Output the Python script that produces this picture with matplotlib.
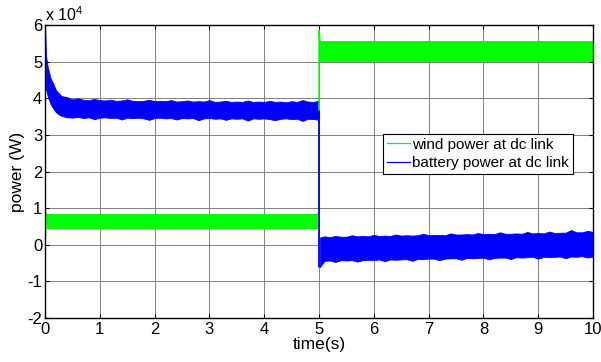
import matplotlib
matplotlib.use('Agg')
import matplotlib.pyplot as plt
from matplotlib.lines import Line2D
import numpy as np

plt.rcParams['font.family'] = ['Liberation Sans', 'DejaVu Sans']
plt.rcParams['mathtext.fontset'] = 'custom'
plt.rcParams['mathtext.rm'] = 'Liberation Sans'

# values in units of 1e4 W
# battery power at dc link, envelope of the noisy signal
batt_t1 = [0.02, 0.05, 0.1, 0.15, 0.2, 0.25, 0.3, 0.4, 0.5, 0.6, 0.7, 0.8, 0.9, 1.0,
           1.1, 1.2, 1.3, 1.4, 1.5, 1.6, 1.7, 1.8, 1.9, 2.0, 2.1, 2.2, 2.3, 2.4, 2.5,
           2.6, 2.7, 2.8, 2.9, 3.0, 3.1, 3.2, 3.3, 3.4, 3.5, 3.6, 3.7, 3.8, 3.9, 4.0,
           4.1, 4.2, 4.3, 4.4, 4.5, 4.6, 4.7, 4.8, 4.9, 4.98]
batt_hi1 = [5.15, 4.85, 4.55, 4.40, 4.22, 4.14, 4.06, 4.03, 3.97, 4.00, 3.96, 3.95, 3.98, 3.95,
            3.94, 3.96, 3.93, 3.94, 3.97, 3.93, 3.92, 3.93, 3.96, 3.92, 3.93, 3.92, 3.95, 3.91, 3.92,
            3.94, 3.91, 3.92, 3.91, 3.95, 3.90, 3.91, 3.93, 3.90, 3.91, 3.90, 3.94, 3.90, 3.91, 3.90,
            3.93, 3.90, 3.91, 3.89, 3.92, 3.90, 3.95, 3.91, 3.90, 3.93]
batt_lo1 = [4.25, 4.05, 3.85, 3.72, 3.62, 3.56, 3.52, 3.48, 3.47, 3.49, 3.46, 3.48, 3.43, 3.47,
            3.48, 3.46, 3.47, 3.42, 3.47, 3.46, 3.47, 3.45, 3.41, 3.46, 3.47, 3.45, 3.46, 3.42, 3.46,
            3.45, 3.46, 3.40, 3.45, 3.46, 3.44, 3.45, 3.41, 3.45, 3.44, 3.45, 3.39, 3.45, 3.44, 3.45,
            3.43, 3.40, 3.44, 3.45, 3.43, 3.44, 3.38, 3.44, 3.43, 3.42]

batt_t2 = [5.02, 5.1, 5.2, 5.3, 5.4, 5.5, 5.6, 5.7, 5.8, 5.9, 6.0, 6.1, 6.2, 6.3, 6.4, 6.5,
           6.6, 6.7, 6.8, 6.9, 7.0, 7.1, 7.2, 7.3, 7.4, 7.5, 7.6, 7.7, 7.8, 7.9, 8.0, 8.1,
           8.2, 8.3, 8.4, 8.5, 8.6, 8.7, 8.8, 8.9, 9.0, 9.1, 9.2, 9.3, 9.4, 9.5, 9.6, 9.7,
           9.8, 9.9, 10.0]
batt_hi2 = [0.20, 0.23, 0.21, 0.24, 0.22, 0.22, 0.26, 0.23, 0.24, 0.23, 0.27, 0.24, 0.25, 0.24, 0.28, 0.25,
            0.26, 0.25, 0.26, 0.30, 0.26, 0.27, 0.27, 0.26, 0.31, 0.28, 0.28, 0.29, 0.28, 0.32, 0.29,
            0.30, 0.29, 0.34, 0.30, 0.30, 0.31, 0.30, 0.35, 0.31, 0.32, 0.31, 0.36, 0.32, 0.33, 0.33,
            0.40, 0.34, 0.34, 0.38, 0.35]
batt_lo2 = [-0.60, -0.44, -0.43, -0.47, -0.42, -0.43, -0.42, -0.46, -0.42, -0.41, -0.42, -0.40, -0.45, -0.40, -0.41, -0.40,
            -0.39, -0.44, -0.39, -0.39, -0.38, -0.38, -0.42, -0.38, -0.37, -0.37, -0.41, -0.36, -0.37, -0.36, -0.35, -0.40,
            -0.36, -0.35, -0.35, -0.39, -0.34, -0.35, -0.34, -0.33, -0.38, -0.33, -0.34, -0.33, -0.32, -0.37, -0.32,
            -0.33, -0.31, -0.35, -0.32]

# start-up spike and step at t = 5 s
batt_edge_t = [0.0, 0.0, 0.02, np.nan, 4.98, 5.0, 5.0, 5.02]
batt_edge_v = [-2.0, 6.0, 5.15, np.nan, 3.42, 3.65, -0.60, -0.60]

# wind power at dc link
wind_t1 = [0.03, 4.98]
wind_hi1 = [0.85, 0.85]
wind_lo1 = [0.44, 0.44]
wind_t2 = [5.02, 10.0]
wind_hi2 = [5.57, 5.57]
wind_lo2 = [4.98, 4.98]
wind_edge_t = [0.0, 0.03, np.nan, 4.98, 5.0, 5.0, 5.02]
wind_edge_v = [0.0, 0.85, np.nan, 0.85, 0.85, 5.85, 5.57]

xticks = [0, 1, 2, 3, 4, 5, 6, 7, 8, 9, 10]
yticks = [-2, -1, 0, 1, 2, 3, 4, 5, 6]
labels = ['wind power at dc link', 'battery power at dc link']

green = '#00ff00'
blue = '#0000ff'

fig = plt.figure(figsize=(6.01, 3.62), dpi=100)
ax = fig.add_axes([45/601, 1-318/362, 548/601, 293/362])

ax.fill_between(wind_t1, wind_lo1, wind_hi1, color=green, lw=0)
ax.fill_between(wind_t2, wind_lo2, wind_hi2, color=green, lw=0)
ax.plot(wind_edge_t, wind_edge_v, color=green, lw=1.0)

ax.fill_between(batt_t1, batt_lo1, batt_hi1, color=blue, lw=0.6, edgecolor=blue)
ax.fill_between(batt_t2, batt_lo2, batt_hi2, color=blue, lw=0.6, edgecolor=blue)
ax.plot(batt_edge_t, batt_edge_v, color=blue, lw=1.3)

ax.set_xlim(0, 10)
ax.set_ylim(-2, 6)
ax.set_xticks(xticks)
ax.set_yticks(yticks)
ax.set_xticklabels([str(v) for v in xticks])
ax.set_yticklabels([str(v) for v in yticks])
ax.grid(True, color='0.5', lw=0.7, ls='-')
ax.set_axisbelow(True)
ax.tick_params(direction='in', top=True, right=True, length=3, width=0.8,
               labelsize=12, colors='black')
ax.tick_params(axis='x', pad=3)
ax.tick_params(axis='y', pad=2)
for s in ax.spines.values():
    s.set_linewidth(1.0)
    s.set_color('black')

ax.text(0, 1.005, 'x 10$^{4}$', transform=ax.transAxes, fontsize=11.5,
        ha='left', va='bottom')
ax.set_xlabel('time(s)', fontsize=12.5, labelpad=0)
ax.set_ylabel('power (W)', fontsize=12.5, labelpad=2)

handles = [Line2D([], [], color=green, lw=0.9), Line2D([], [], color=blue, lw=0.9)]
leg = ax.legend(handles, labels, loc='upper left', bbox_to_anchor=(0.617, 0.628), fontsize=11,
                frameon=True, fancybox=False, framealpha=1, edgecolor='black',
                borderpad=0.25, labelspacing=0.3, handlelength=1.5,
                handletextpad=0.15, borderaxespad=0)
leg.get_frame().set_linewidth(0.8)

fig.savefig('out.png', dpi=100)
